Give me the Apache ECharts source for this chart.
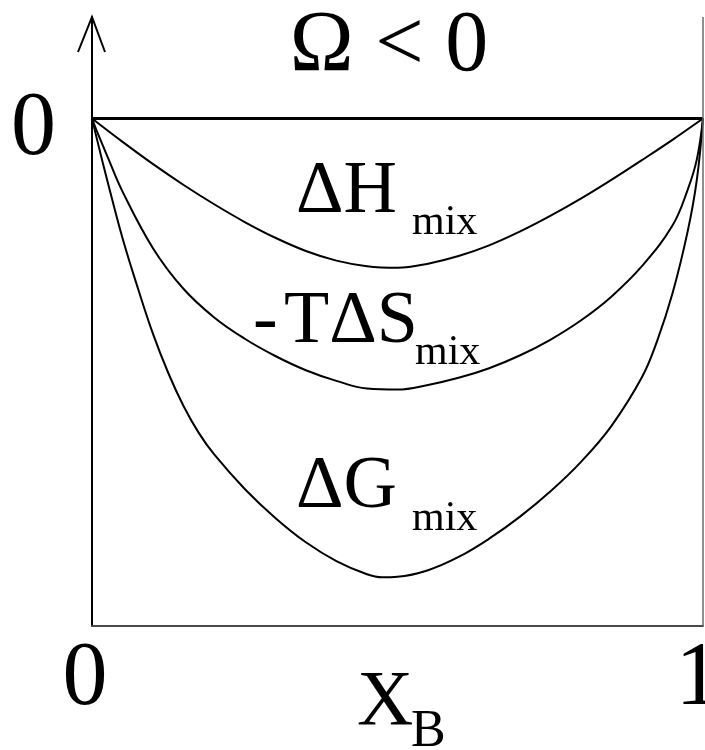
<!DOCTYPE html>
<html>
<head>
<meta charset="utf-8">
<script src="https://cdn.jsdelivr.net/npm/echarts@6/dist/echarts.min.js"></script>
<style>
  html, body { margin: 0; padding: 0; background: #fff; }
  #chart { width: 705px; height: 750px; }
</style>
</head>
<body>
<div id="chart"></div>
<script>
// Mole fraction of B (x) against the mixing quantities (y), regular solution with Ω < 0.
const enthalpyMix = [
  [0, 0], [0.05, -0.046], [0.10, -0.090], [0.15, -0.131], [0.20, -0.169], [0.25, -0.204],
  [0.30, -0.235], [0.35, -0.261], [0.40, -0.280], [0.45, -0.291], [0.50, -0.294],
  [0.55, -0.286], [0.60, -0.271], [0.65, -0.250], [0.70, -0.223], [0.75, -0.192],
  [0.80, -0.158], [0.85, -0.121], [0.90, -0.082], [0.95, -0.042], [1, 0]
];
const entropyTermMix = [
  [0, 0], [0.01, -0.031], [0.025, -0.074], [0.05, -0.144], [0.10, -0.256], [0.15, -0.336],
  [0.20, -0.392], [0.25, -0.434], [0.30, -0.468], [0.35, -0.496], [0.40, -0.517],
  [0.45, -0.532], [0.50, -0.534], [0.55, -0.525], [0.60, -0.511], [0.65, -0.492],
  [0.70, -0.467], [0.75, -0.436], [0.80, -0.398], [0.85, -0.351], [0.90, -0.291],
  [0.95, -0.211], [0.975, -0.140], [0.99, -0.080], [1, 0]
];
const gibbsMix = [
  [0, 0], [0.01, -0.050], [0.025, -0.122], [0.05, -0.236], [0.075, -0.334], [0.10, -0.425],
  [0.125, -0.502], [0.15, -0.567], [0.175, -0.620], [0.20, -0.662], [0.25, -0.730],
  [0.30, -0.787], [0.35, -0.835], [0.40, -0.872], [0.45, -0.898], [0.475, -0.904],
  [0.50, -0.903], [0.55, -0.890], [0.60, -0.864], [0.65, -0.828], [0.70, -0.785],
  [0.75, -0.735], [0.80, -0.677], [0.85, -0.606], [0.90, -0.510], [0.925, -0.438],
  [0.95, -0.345], [0.975, -0.222], [0.99, -0.120], [1, 0]
];
const xTickLabels = { 0: '0', 1: '1' };
const yTickLabels = { 0: '0' };
const yAxisTop = 0.2;

const serif = "'Liberation Serif', 'Times New Roman', serif";

const chart = echarts.init(document.getElementById('chart'), null, { renderer: 'canvas' });

function curve(name, data) {
  return {
    name: name,
    type: 'line',
    data: data,
    smooth: 0.4,
    symbol: 'none',
    lineStyle: { color: '#000', width: 2 },
    silent: true,
    z: 3
  };
}

const option = {
  animation: false,
  backgroundColor: '#fff',
  grid: { left: 92, right: 2, top: 17, bottom: 124, outerBoundsMode: 'none' },
  xAxis: {
    type: 'value', min: 0, max: 1, interval: 1,
    axisLine: { show: true, onZero: false, lineStyle: { color: '#4a4a4a', width: 2 } },
    axisTick: { show: false },
    splitLine: { show: false },
    axisLabel: {
      margin: 9,
      formatter: function (v) {
        const t = xTickLabels[Math.round(v * 1000) / 1000];
        if (t === undefined) return '';
        return v < 0.5 ? '{a|' + t + '}' : '{b|' + t + '}';
      },
      rich: {
        a: { fontFamily: serif, fontSize: 90, lineHeight: 90, color: '#000', padding: [0, 14, 0, 0] },
        b: { fontFamily: serif, fontSize: 90, lineHeight: 90, color: '#000', padding: [0, 10, 0, 0] }
      }
    }
  },
  yAxis: {
    type: 'value', min: -1, max: yAxisTop, interval: 0.2,
    axisLine: { show: true, onZero: false, lineStyle: { color: '#000', width: 2 } },
    axisTick: { show: false },
    splitLine: { show: false },
    axisLabel: {
      margin: 36,
      formatter: function (v) {
        const t = yTickLabels[Math.round(v * 1000) / 1000];
        return t === undefined ? '' : '{z|' + t + '}';
      },
      rich: {
        z: { fontFamily: serif, fontSize: 90, lineHeight: 90, color: '#000', padding: [24, 0, 0, 0] }
      }
    }
  },
  series: [
    Object.assign(curve('ΔHmix', enthalpyMix), {
      markLine: {
        silent: true,
        symbol: 'none',
        label: { show: false },
        data: [
          { yAxis: 0, lineStyle: { color: '#000', width: 3, type: 'solid' } },
          { xAxis: 1, lineStyle: { color: '#6a6a6a', width: 1.5, type: 'solid' } }
        ]
      }
    }),
    curve('-TΔSmix', entropyTermMix),
    curve('ΔGmix', gibbsMix),
    {
      // open arrow head at the top of the vertical axis
      type: 'custom',
      data: [[0, yAxisTop]],
      clip: false,
      silent: true,
      renderItem: function (params, api) {
        const p = api.coord([api.value(0), api.value(1)]);
        return {
          type: 'polyline',
          shape: { points: [[p[0] - 14, p[1] + 35], [p[0], p[1]], [p[0] + 13, p[1] + 35]] },
          style: { stroke: '#000', lineWidth: 2, fill: null }
        };
      }
    }
  ],
  graphic: [
    { type: 'text', x: 389, y: 47, silent: true,
      style: { text: 'Ω < 0', fontFamily: serif, fontSize: 86, fill: '#000', align: 'center', verticalAlign: 'middle' } },
    { type: 'text', x: 296, y: 193, silent: true,
      style: { text: 'ΔH', fontFamily: serif, fontSize: 74, fill: '#000', align: 'left', verticalAlign: 'middle' } },
    { type: 'text', x: 412, y: 223, silent: true,
      style: { text: 'mix', fontFamily: serif, fontSize: 42, fill: '#000', align: 'left', verticalAlign: 'middle' } },
    { type: 'text', x: 253, y: 323, silent: true,
      style: { text: '-', fontFamily: serif, fontSize: 74, fill: '#000', align: 'left', verticalAlign: 'middle' } },
    { type: 'text', x: 284, y: 323, silent: true,
      style: { text: 'TΔS', fontFamily: serif, fontSize: 74, fill: '#000', align: 'left', verticalAlign: 'middle' } },
    { type: 'text', x: 415, y: 353, silent: true,
      style: { text: 'mix', fontFamily: serif, fontSize: 42, fill: '#000', align: 'left', verticalAlign: 'middle' } },
    { type: 'text', x: 296, y: 488, silent: true,
      style: { text: 'ΔG', fontFamily: serif, fontSize: 74, fill: '#000', align: 'left', verticalAlign: 'middle' } },
    { type: 'text', x: 412, y: 519, silent: true,
      style: { text: 'mix', fontFamily: serif, fontSize: 42, fill: '#000', align: 'left', verticalAlign: 'middle' } },
    { type: 'text', x: 357, y: 704, silent: true,
      style: { text: 'X', fontFamily: serif, fontSize: 78, fill: '#000', align: 'left', verticalAlign: 'middle' } },
    { type: 'text', x: 411, y: 732, silent: true,
      style: { text: 'B', fontFamily: serif, fontSize: 52, fill: '#000', align: 'left', verticalAlign: 'middle' } }
  ]
};

chart.setOption(option);
</script>
</body>
</html>
